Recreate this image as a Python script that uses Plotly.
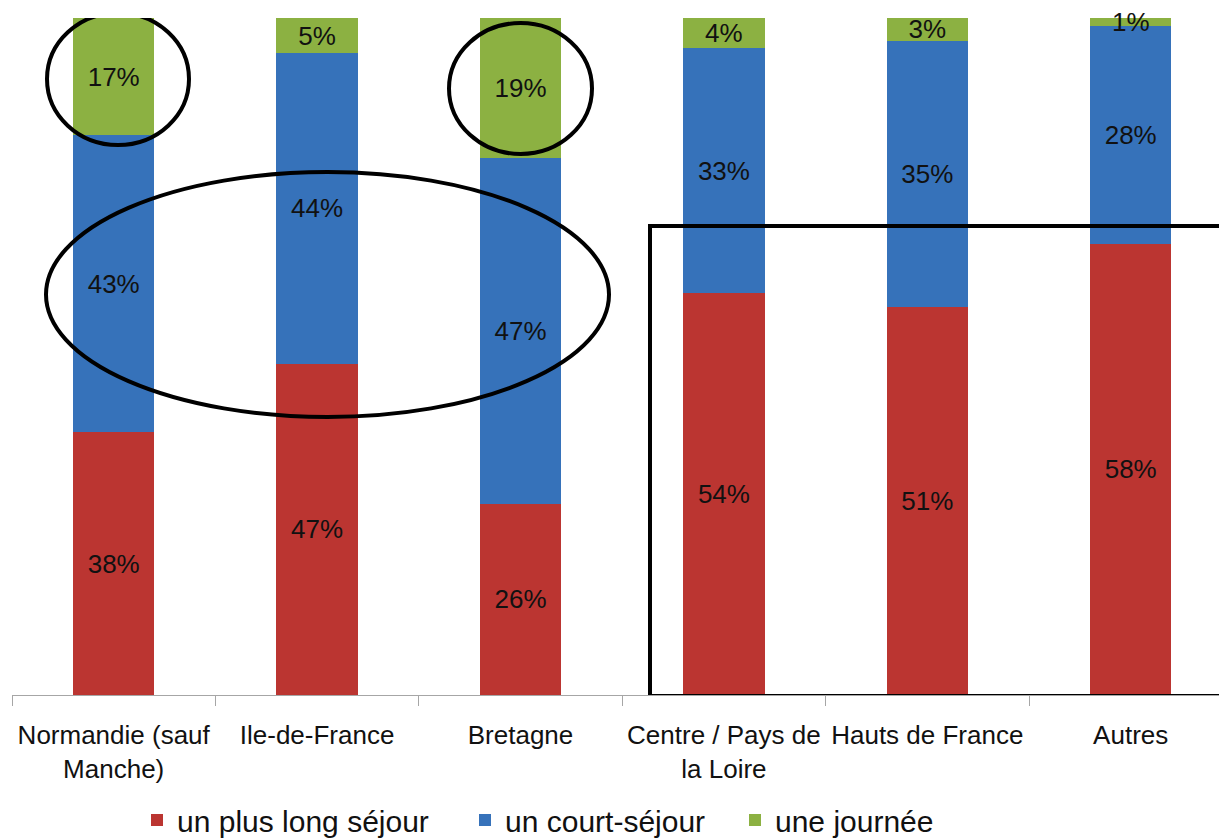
import plotly.graph_objects as go

categories = ["Normandie (sauf<br>Manche)", "Ile-de-France", "Bretagne",
              "Centre / Pays de<br>la Loire", "Hauts de France", "Autres"]
long_sejour = [38, 47, 26, 54, 51, 58]
court_sejour = [43, 44, 47, 33, 35, 28]
journee = [17, 5, 19, 4, 3, 1]

series = [
    ("un plus long séjour", long_sejour, "#bb3531"),
    ("un court-séjour", court_sejour, "#3672ba"),
    ("une journée", journee, "#8cb142"),
]

W, H = 1219, 839
ML, MR, MT, MB = 12, 0, 18, 144
CAT_PX = 203.4
x_lo = -0.5
x_hi = x_lo + (W - ML - MR) / CAT_PX
PW = W - ML - MR
PH = H - MB - MT

FONT = "Liberation Sans, Arial, sans-serif"

legend_names = ["legend", "legend2", "legend3"]
legend_left_px = [137, 465, 735]

fig = go.Figure()
for (name, vals, color), lg in zip(series, legend_names):
    fig.add_trace(go.Bar(
        name=name,
        x=categories,
        y=vals,
        text=[f"{v}%" for v in vals],
        textposition="inside",
        insidetextanchor="middle",
        textangle=0,
        insidetextfont=dict(family=FONT, size=26, color="#111111"),
        marker=dict(color=color, line=dict(width=0)),
        width=0.4,
        cliponaxis=False,
        hoverinfo="skip",
        legend=lg,
        showlegend=True,
    ))

# helpers for annotation shapes (pixel -> axis coordinates)
def px2x(px):
    return x_lo + (px - ML) / CAT_PX

def py2y(py):
    return (H - MB - py) / PH * 100

shape_line = dict(color="black", width=4)
shapes = [
    dict(type="circle", xref="x", yref="y", x0=px2x(47), x1=px2x(189),
         y0=py2y(145), y1=py2y(13), line=shape_line),
    dict(type="circle", xref="x", yref="y", x0=px2x(449), x1=px2x(592),
         y0=py2y(154), y1=py2y(23), line=shape_line),
    dict(type="circle", xref="x", yref="y", x0=px2x(46), x1=px2x(609),
         y0=py2y(417), y1=py2y(172), line=shape_line),
    dict(type="rect", xref="x", yref="y", x0=px2x(650), x1=px2x(1260),
         y0=py2y(696), y1=py2y(226), line=shape_line),
]

legend_common = dict(
    orientation="h",
    yanchor="middle",
    y=(H - MB - 820) / PH,
    xanchor="left",
    font=dict(family=FONT, size=30, color="#111111"),
    bgcolor="rgba(0,0,0,0)",
    visible=True,
)

fig.update_layout(
    width=W, height=H,
    margin=dict(l=ML, r=MR, t=MT, b=MB, autoexpand=False),
    barmode="stack",
    barnorm="percent",
    showlegend=True,
    plot_bgcolor="white",
    paper_bgcolor="white",
    font=dict(family=FONT, color="#111111"),
    uniformtext=dict(minsize=26, mode="show"),
    shapes=shapes,
    legend=dict(legend_common, x=(legend_left_px[0] - ML) / PW),
    legend2=dict(legend_common, x=(legend_left_px[1] - ML) / PW),
    legend3=dict(legend_common, x=(legend_left_px[2] - ML) / PW),
    xaxis=dict(
        range=[x_lo, x_hi],
        automargin=False,
        showline=True, linecolor="#a6a6a6", linewidth=1,
        ticks="outside", tickson="boundaries", ticklen=10, tickcolor="#a6a6a6",
        tickangle=0,
        ticklabelstandoff=17,
        tickfont=dict(family=FONT, size=26, color="#111111"),
        showgrid=False, zeroline=False,
    ),
    yaxis=dict(
        range=[0, 100], visible=False, showgrid=False, zeroline=False,
    ),
)

fig.write_html("out.html")
